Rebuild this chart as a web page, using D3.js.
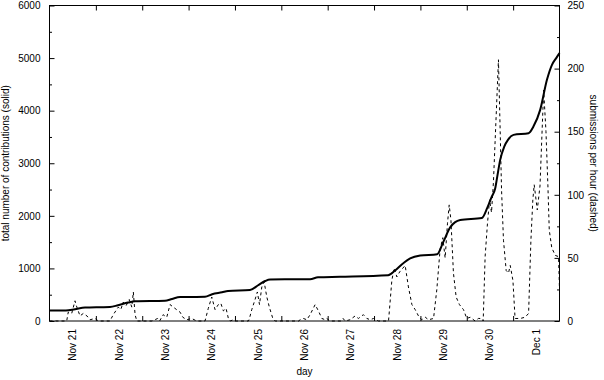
<html>
<head>
<script src="https://d3js.org/d3.v7.min.js"></script>
<style>
body{margin:0;background:#fff;}
text{font-family:"Liberation Sans",Arial,sans-serif;font-size:10px;fill:#000;}
</style>
</head>
<body>
<svg id="svg" width="604" height="380"></svg>
<script>
// hours counted from Nov 21 00:00, one tick per day
var dayLabels = ["Nov 21","Nov 22","Nov 23","Nov 24","Nov 25","Nov 26","Nov 27","Nov 28","Nov 29","Nov 30","Dec 1"];
var leftTicks = [0,1000,2000,3000,4000,5000,6000];
var rightTicks = [0,50,100,150,200,250];

// total contributions (solid)
var totalHours = [0,8.5,13.2,18.4,26,31.3,35.5,40.7,44.3,59.8,63.4,67.6,80.5,84.2,89.3,92.4,103.8,108,111.6,114.2,134.9,139,150.4,175.3,178.9,182.5,186.7,191.9,200.7,203.8,207.4,210,212.6,223.8,226.6,229,230.7,231.8,233.3,235.4,237.4,240.2,248,250.5,254,257.5,260.1,262.3,264];
var totalValues = [200,200,225,255,262,265,300,350,375,385,420,455,462,510,545,570,590,680,760,790,795,830,840,870,960,1080,1190,1245,1270,1500,1780,1880,1920,1960,2150,2370,2520,2750,3064,3317,3450,3540,3572,3697,4015,4586,4871,5000,5094];

// submissions per hour (dashed)
var rateHours = [0,8.9,9.7,11.5,13.2,13.7,15.8,17.5,19.4,21,23.6,25.3,
  31.3,33,35.6,36.9,38.2,39.6,41.3,42.6,43.4,44.3,45.2,53,56,57,58.8,60.7,62.4,64.1,65.8,67.6,69,71,73.6,76.2,
  80.5,82.2,84,85.7,87.4,88.7,90,91.4,92.6,93.5,95.2,96,103,103.5,104.7,106.4,107.6,108.7,109.9,111.1,112.5,113.8,115.6,116.8,
  129,129.7,131.4,133.2,134.9,137.5,139.2,141,142.7,143.5,145.3,151,152,153,155.6,158.2,159.9,162.5,164.3,166,167.7,170.3,
  175.5,177.2,178.4,179.8,181.3,184.1,185.8,187.6,189.3,191,192.7,194.5,196.2,198.8,200.5,202.2,203.6,204.8,206,206.9,207.8,209.1,210.5,212.2,214.3,216,217.8,220.3,222,223.8,224.5,
  225.5,226.7,227.8,228.8,229.8,232.4,233.3,234,235,236.4,237.6,238.5,239.9,241,243.7,246.2,248,249.2,250.2,250.9,252.5,253.9,255.8,257,258,258.7,260,261.8,263.5,264];
var rateValues = [0,0,7,6,16,13,4,6,4,1,2,0,
  0,5,11,9,15,12,17,11,23,5,0,0,2,0,5,3,13,11,9,7,3,1,2,0,
  0,10,19,9,13,14,8,10,2,0,1,0,0,2,9,17,23,13,27,31,19,11,2,0,
  0,1,2,1,5,13,8,2,1,2,0,0,2,0,1,4,2,5,2,1,2,0,
  0,32,42,35,39,44,27,13,9,4,1,3,1,2,25,57,66,50,77,92,80,38,19,13,9,2,3,0,2,2,0,
  51,77,96,86,110,207,150,104,64,40,38,44,32,2,2,3,6,64,96,108,88,107,183,150,107,72,58,52,51,25];

var svg = d3.select("svg");
var pLeft = 49.5, pRight = 559.5, pTop = 5.5, pBottom = 321;

var x = d3.scaleLinear().domain([0,264]).range([pLeft,pRight]);
var yL = d3.scaleLinear().domain([0,6000]).range([pBottom,pTop]);
var yR = d3.scaleLinear().domain([0,250]).range([pBottom,pTop]);

function clean(g){ g.select(".domain").remove(); g.selectAll("line").attr("stroke","#000"); g.selectAll("text").attr("font-size",null).attr("font-family",null); }

// y axes, ticks pointing inward
svg.append("g").attr("transform","translate("+pLeft+",0)")
   .call(d3.axisLeft(yL).tickValues(leftTicks).tickFormat(d3.format("d")).tickSizeInner(-5).tickSizeOuter(0).tickPadding(9)).call(clean);
svg.append("g").attr("transform","translate("+pLeft+",0)")
   .call(d3.axisLeft(yL).tickValues(d3.range(500,6000,1000)).tickSizeInner(-2.5).tickSizeOuter(0).tickFormat("")).call(clean);
svg.append("g").attr("transform","translate("+pRight+",0)")
   .call(d3.axisRight(yR).tickValues(rightTicks).tickFormat(d3.format("d")).tickSizeInner(-5).tickSizeOuter(0).tickPadding(8)).call(clean);
svg.append("g").attr("transform","translate("+pRight+",0)")
   .call(d3.axisRight(yR).tickValues(d3.range(25,250,50)).tickSizeInner(-2.5).tickSizeOuter(0).tickFormat("")).call(clean);

// day ticks top and bottom
var dayTicks = d3.range(24,264,24);
svg.append("g").attr("transform","translate(0,"+pBottom+")")
   .call(d3.axisBottom(x).tickValues(dayTicks).tickSizeInner(-5).tickSizeOuter(0).tickFormat("")).call(clean);
svg.append("g").attr("transform","translate(0,"+pTop+")")
   .call(d3.axisTop(x).tickValues(dayTicks).tickSizeInner(-5).tickSizeOuter(0).tickFormat("")).call(clean);

// day labels, rotated, centred on each day
svg.append("g").selectAll("text").data(dayLabels).enter().append("text")
   .attr("transform",function(d,i){ return "translate("+x(24*i+12)+","+(pBottom+8)+") rotate(-90)"; })
   .attr("text-anchor","end").attr("dy","0.35em").text(function(d){ return d; });

// frame
svg.append("rect").attr("x",pLeft).attr("y",pTop).attr("width",pRight-pLeft).attr("height",pBottom-pTop)
   .attr("fill","none").attr("stroke","#000").attr("stroke-width",1);

// lines
var rateLine = d3.line().x(function(d,i){ return x(rateHours[i]); }).y(function(d){ return yR(d); });
svg.append("path").attr("d",rateLine(rateValues)).attr("fill","none").attr("stroke","#000")
   .attr("stroke-width",1).attr("stroke-dasharray","3,3");

var totalLine = d3.line().x(function(d,i){ return x(totalHours[i]); }).y(function(d){ return yL(d); }).curve(d3.curveMonotoneX);
svg.append("path").attr("d",totalLine(totalValues)).attr("fill","none").attr("stroke","#000")
   .attr("stroke-width",2);

// axis titles
svg.append("text").attr("transform","translate(9,"+(pTop+pBottom)/2+") rotate(-90)")
   .attr("text-anchor","middle").text("total number of contributions (solid)");
svg.append("text").attr("transform","translate(590,"+(pTop+pBottom)/2+") rotate(90)")
   .attr("text-anchor","middle").text("submissions per hour (dashed)");
svg.append("text").attr("x",(pLeft+pRight)/2).attr("y",375).attr("text-anchor","middle").text("day");
</script>
</body>
</html>
